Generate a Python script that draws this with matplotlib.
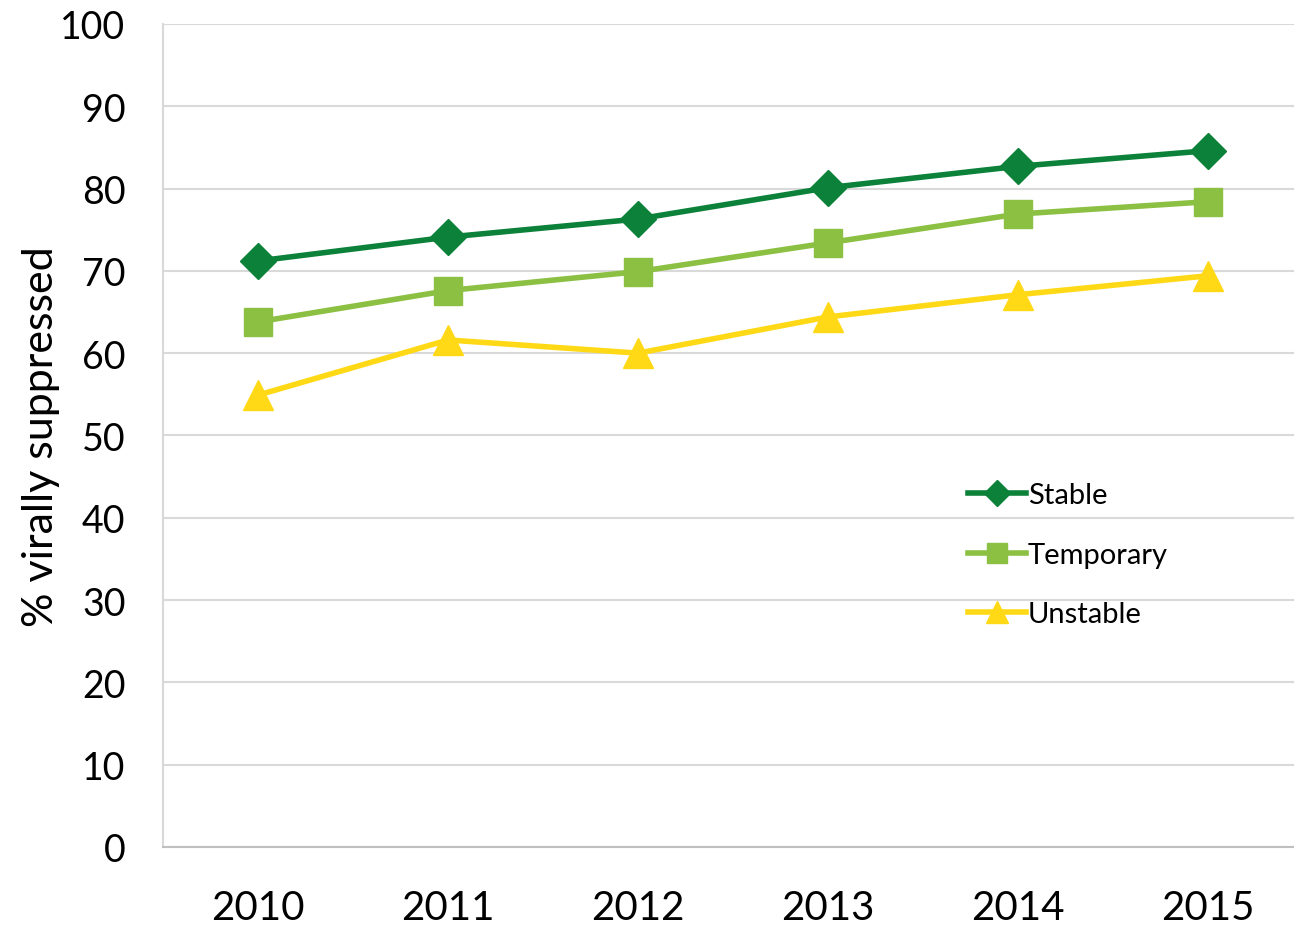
import matplotlib.pyplot as plt

# --- data ---
YEARS = ["2010", "2011", "2012", "2013", "2014", "2015"]
STABLE = [71.2, 74.1, 76.3, 80.1, 82.7, 84.6]
TEMPORARY = [63.8, 67.6, 69.9, 73.4, 76.9, 78.4]
UNSTABLE = [54.9, 61.6, 60.0, 64.4, 67.1, 69.4]

plt.rcParams['font.family'] = ['Lato', 'DejaVu Sans']

fig = plt.figure(figsize=(12.94, 9.29), dpi=100)
ax = fig.add_axes([0.126, 0.0872, 0.881, 0.886])

x = range(len(YEARS))
ax.plot(x, STABLE, color="#0b8139", lw=4, marker="D", ms=18, label="Stable", zorder=5)
ax.plot(x, TEMPORARY, color="#8bc043", lw=4, marker="s", ms=20, label="Temporary", zorder=4)
ax.plot(x, UNSTABLE, color="#ffd916", lw=4, marker="^", ms=22, label="Unstable", zorder=3)

ax.set_xlim(-0.5, 5.5)
ax.set_ylim(0, 100)
ax.set_yticks(range(0, 101, 10))
ax.set_xticks(list(x))
ax.set_xticklabels(YEARS)
ax.tick_params(axis="y", length=0, pad=27, labelsize=27)
ax.tick_params(axis="x", length=0, pad=30, labelsize=29)
ax.grid(axis="y", color="#d9d9d9", lw=1.5)
ax.set_axisbelow(True)
for s in ["top", "right"]:
    ax.spines[s].set_visible(False)
ax.spines["left"].set_color("#d9d9d9")
ax.spines["left"].set_linewidth(1.5)
ax.spines["bottom"].set_color("#bfbfbf")
ax.spines["bottom"].set_linewidth(1.5)

ax.set_ylabel("% virally suppressed", fontsize=31, labelpad=0)

ax.legend(loc="upper left", bbox_to_anchor=(0.683, 0.475), frameon=False,
          fontsize=21, handlelength=2.0, handletextpad=0.05, labelspacing=1.15,
          markerscale=0.72)

fig.savefig("out.png", dpi=100)
